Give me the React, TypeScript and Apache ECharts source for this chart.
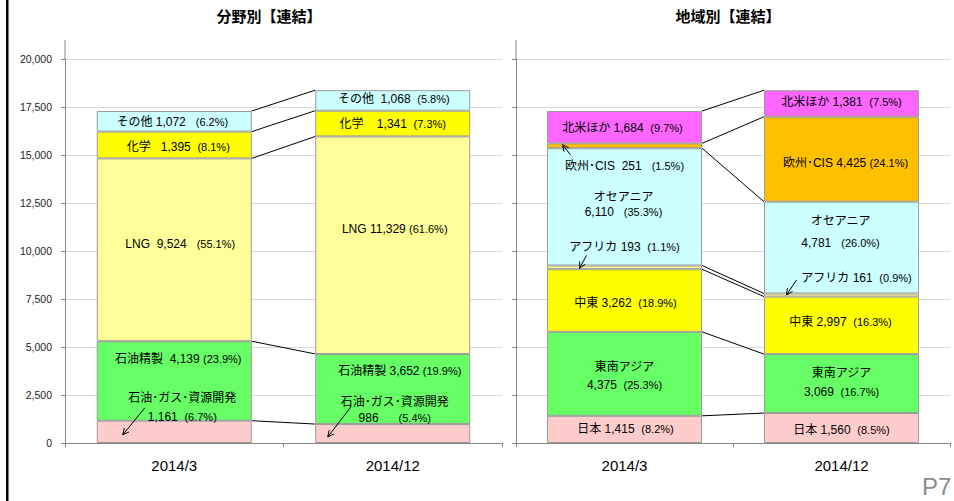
import React, { useEffect, useRef } from 'react';
import * as echarts from 'echarts';

// ---------- data ----------
const categories = ['2014/3', '2014/12'];

const fieldNames = ['石油･ガス･資源開発', '石油精製', 'LNG', '化学', 'その他'];
const fieldMar14 = [1161, 4139, 9524, 1395, 1072];
const fieldDec14 = [986, 3652, 11329, 1341, 1068];
const fieldShareMar14 = ['6.7%', '23.9%', '55.1%', '8.1%', '6.2%'];
const fieldShareDec14 = ['5.4%', '19.9%', '61.6%', '7.3%', '5.8%'];

const regionNames = ['日本', '東南アジア', '中東', 'アフリカ', 'オセアニア', '欧州･CIS', '北米ほか'];
const regionMar14 = [1415, 4375, 3262, 193, 6110, 251, 1684];
const regionDec14 = [1560, 3069, 2997, 161, 4781, 4425, 1381];
const regionShareMar14 = ['8.2%', '25.3%', '18.9%', '1.1%', '35.3%', '1.5%', '9.7%'];
const regionShareDec14 = ['8.5%', '16.7%', '16.3%', '0.9%', '26.0%', '24.1%', '7.5%'];

const titles = ['分野別【連結】', '地域別【連結】'];
const pageLabel = 'P7';

// ---------- styles / layout ----------
const FONT = '"Liberation Sans", "Noto Sans CJK JP", sans-serif';
const fieldColors = ['#FFCCCC', '#66FF66', '#FFFF99', '#FFFF00', '#CCFFFF'];
const regionColors = ['#FFCCCC', '#66FF66', '#FFFF00', '#FFFF99', '#CCFFFF', '#FFC000', '#FF66FF'];
const BAR_W = 155;

type LL = { two?: boolean; dx: number; dy: number; lh?: number; g1?: string; g2?: string };
const fieldLabelLayout: LL[][] = [
  [{ two: true, dx: 8, dy: -24, lh: 19 }, { two: true, dx: 2, dy: -24, lh: 16, g2: '      ' }],
  [{ dx: 4, dy: -22, g1: '  ', g2: ' ' }, { dx: 7, dy: -18, g2: ' ' }],
  [{ dx: 6, dy: -6, g1: '  ', g2: '   ' }, { dx: 2, dy: -16, g2: ' ' }],
  [{ dx: 4, dy: 2, g1: '   ', g2: '  ' }, { dx: 0, dy: 0, g1: '    ', g2: '  ' }],
  [{ dx: -2, dy: 1, g2: '   ' }, { dx: 1, dy: -1, g1: '  ', g2: '  ' }],
];
const regionLabelLayout: LL[][] = [
  [{ dx: 1, dy: 0 }, { dx: 0, dy: 2 }],
  [{ two: true, dx: 0, dy: 2, lh: 18 }, { two: true, dx: 0, dy: -1, lh: 19 }],
  [{ dx: 1, dy: 2 }, { dx: -1, dy: -3 }],
  [{ dx: 0, dy: -20 }, { dx: 15, dy: -17 }],
  [{ two: true, dx: -1, dy: -2, lh: 15, g2: '   ' }, { two: true, dx: -1, dy: -16, lh: 22, g2: '   ' }],
  [{ dx: 0, dy: 20, g1: '  ', g2: '   ' }, { dx: 4, dy: 4, g2: ' ' }],
  [{ dx: -2, dy: 1 }, { dx: 0, dy: -1 }],
];

type AL = { seg: number; cat: number; sx: number; sy: number; ex: number; ey: number };
const fieldArrows: AL[] = [
  { seg: 0, cat: 0, sx: -29.5, sy: -24, ex: -51.5, ey: 3 },
  { seg: 0, cat: 1, sx: -42, sy: -26.5, ex: -65, ey: 3.5 },
];
const regionArrows: AL[] = [
  { seg: 5, cat: 0, sx: -54, sy: 9, ex: -62, ey: -1 },
  { seg: 3, cat: 0, sx: -38, sy: -12, ex: -45, ey: 1 },
  { seg: 3, cat: 1, sx: -45, sy: -15, ex: -55, ey: 0 },
];

const fmt = (n: number) => n.toLocaleString('en-US');

function cumulative(arr: number[]) {
  const out: number[] = [];
  let s = 0;
  for (const v of arr) {
    s += v;
    out.push(s);
  }
  return out;
}

function buildPanel(
  gi: number,
  names: string[],
  v1: number[],
  v2: number[],
  s1: string[],
  s2: string[],
  colors: string[],
  layouts: LL[][],
  arrows: AL[]
) {
  const vals = [v1, v2];
  const shares = [s1, s2];
  const series: any[] = names.map((name, k) => ({
    type: 'bar',
    name,
    stack: 'st' + gi,
    xAxisIndex: gi,
    yAxisIndex: gi,
    barWidth: BAR_W,
    itemStyle: { color: colors[k], borderColor: '#9a9a9a', borderWidth: 1 },
    label: {
      show: true,
      position: 'inside',
      color: '#000',
      fontFamily: FONT,
      textBorderWidth: 0,
    },
    data: [0, 1].map((c) => {
      const L = layouts[k][c];
      const g1 = L.g1 ?? ' ';
      const g2 = L.g2 ?? '  ';
      const v = vals[c][k];
      const text = L.two
        ? `{n|${name}}\n{n|${fmt(v)}}${g2}{p|(${shares[c][k]})}`
        : `{n|${name}${g1}${fmt(v)}}${g2}{p|(${shares[c][k]})}`;
      const lh = L.lh ?? 14;
      return {
        value: v,
        label: {
          formatter: text,
          offset: [L.dx, L.dy],
          rich: {
            n: { fontSize: 12, color: '#000', fontFamily: FONT, lineHeight: lh },
            p: { fontSize: 11, color: '#000', fontFamily: FONT, lineHeight: lh },
          },
        },
      };
    }),
  }));

  const c1 = cumulative(v1);
  const c2 = cumulative(v2);
  series.push({
    type: 'custom',
    xAxisIndex: gi,
    yAxisIndex: gi,
    silent: true,
    z: 5,
    data: names.map((_, k) => [0, c1[k], c2[k]]),
    renderItem: (params: any, api: any) => {
      const p1 = api.coord([0, api.value(1)]);
      const p2 = api.coord([1, api.value(2)]);
      return {
        type: 'line',
        shape: { x1: p1[0] + BAR_W / 2, y1: p1[1], x2: p2[0] - BAR_W / 2, y2: p2[1] },
        style: { stroke: '#000', lineWidth: 1 },
      };
    },
  });

  const cums = [c1, c2];
  series.push({
    type: 'custom',
    xAxisIndex: gi,
    yAxisIndex: gi,
    silent: true,
    z: 6,
    data: arrows.map((a, i) => [a.cat, cums[a.cat][a.seg] - vals[a.cat][a.seg] / 2, i]),
    renderItem: (params: any, api: any) => {
      const a = arrows[api.value(2)];
      const p = api.coord([api.value(0), api.value(1)]);
      const x1 = p[0] + a.sx;
      const y1 = p[1] + a.sy;
      const x2 = p[0] + a.ex;
      const y2 = p[1] + a.ey;
      const ang = Math.atan2(y2 - y1, x2 - x1);
      const L = 7;
      const hA = 0.45;
      const st = { stroke: '#000', lineWidth: 1 };
      return {
        type: 'group',
        children: [
          { type: 'line', shape: { x1, y1, x2, y2 }, style: st },
          {
            type: 'line',
            shape: { x1: x2, y1: y2, x2: x2 - L * Math.cos(ang + hA), y2: y2 - L * Math.sin(ang + hA) },
            style: st,
          },
          {
            type: 'line',
            shape: { x1: x2, y1: y2, x2: x2 - L * Math.cos(ang - hA), y2: y2 - L * Math.sin(ang - hA) },
            style: st,
          },
        ],
      };
    },
  });
  return series;
}

export default function App() {
  const ref = useRef<HTMLDivElement>(null);
  useEffect(() => {
    if (!ref.current) return;
    const chart = echarts.init(ref.current, undefined, { renderer: 'svg' });
    const axisColor = '#868686';
    const xAxisBase = (gi: number) => ({
      type: 'category',
      gridIndex: gi,
      data: categories,
      axisLine: { show: true, lineStyle: { color: axisColor, width: 1 } },
      axisTick: { show: true, length: 4, lineStyle: { color: axisColor } },
      axisLabel: { fontSize: 15, color: '#000', margin: 15, fontFamily: FONT },
    });
    const yAxisBase = (gi: number) => ({
      type: 'value',
      gridIndex: gi,
      min: 0,
      max: 20000,
      interval: 2500,
      axisLine: { show: true, lineStyle: { color: axisColor, width: 1 } },
      axisTick: { show: true, length: 4, lineStyle: { color: axisColor } },
      axisLabel: {
        show: gi === 0,
        fontSize: 10.5,
        color: '#222',
        margin: 13,
        fontFamily: FONT,
        formatter: (v: number) => fmt(v),
      },
      splitLine: { show: true, lineStyle: { color: '#d9d9d9', width: 1 } },
    });
    const option: any = {
      animation: false,
      backgroundColor: '#fff',
      grid: [
        { left: 65, right: 452, top: 59, bottom: 58 },
        { left: 516, right: 4, top: 59, bottom: 58 },
      ],
      xAxis: [xAxisBase(0), xAxisBase(1)],
      yAxis: [yAxisBase(0), yAxisBase(1)],
      series: [
        ...buildPanel(0, fieldNames, fieldMar14, fieldDec14, fieldShareMar14, fieldShareDec14, fieldColors, fieldLabelLayout, fieldArrows),
        ...buildPanel(1, regionNames, regionMar14, regionDec14, regionShareMar14, regionShareDec14, regionColors, regionLabelLayout, regionArrows),
      ],
      graphic: [
        { type: 'rect', left: 6, top: 0, shape: { x: 0, y: 0, width: 2.5, height: 501 }, style: { fill: '#000' } },
        { type: 'line', shape: { x1: 65, y1: 40, x2: 65, y2: 59 }, style: { stroke: axisColor, lineWidth: 1 } },
        { type: 'line', shape: { x1: 516, y1: 40, x2: 516, y2: 59 }, style: { stroke: axisColor, lineWidth: 1 } },
        {
          type: 'text',
          x: 269,
          y: 16,
          style: {
            text: titles[0],
            font: `bold 15px ${FONT}`,
            fill: '#000',
            textAlign: 'center',
            textVerticalAlign: 'middle',
            align: 'center',
            verticalAlign: 'middle',
          },
        },
        {
          type: 'text',
          x: 728,
          y: 16,
          style: {
            text: titles[1],
            font: `bold 15px ${FONT}`,
            fill: '#000',
            textAlign: 'center',
            textVerticalAlign: 'middle',
            align: 'center',
            verticalAlign: 'middle',
          },
        },
        {
          type: 'text',
          x: 922,
          y: 486,
          style: {
            text: pageLabel,
            font: `24px ${FONT}`,
            fill: '#8c8c8c',
            textAlign: 'left',
            textVerticalAlign: 'middle',
            align: 'left',
            verticalAlign: 'middle',
          },
        },
      ],
    };
    chart.setOption(option);
    return () => chart.dispose();
  }, []);
  return (
    <div
      ref={ref}
      style={{ position: 'absolute', left: 0, top: 0, width: 954, height: 501, background: '#fff' }}
    />
  );
}
